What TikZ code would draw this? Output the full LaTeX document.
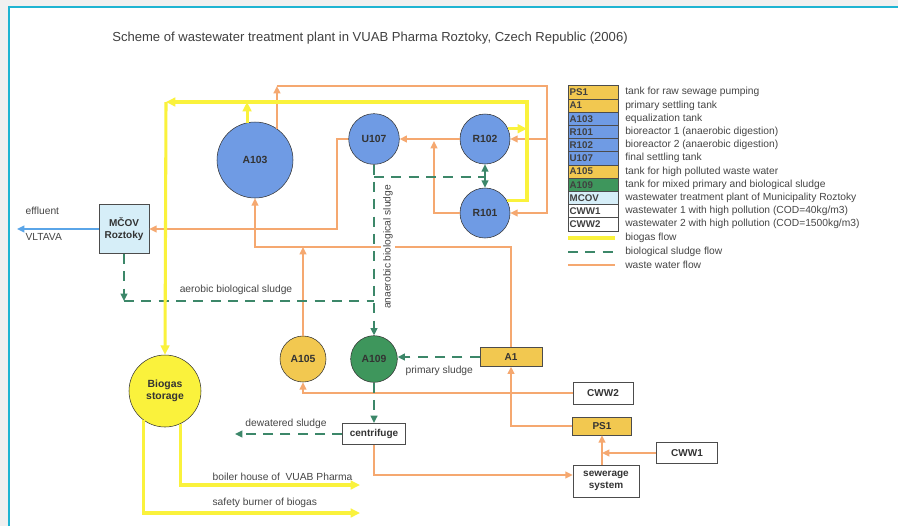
\documentclass[tikz,border=0pt]{standalone}
\usepackage{fontspec}
\setmainfont{Liberation Sans}
\usepackage{xcolor}
\usetikzlibrary{arrows.meta}

\definecolor{tankblue}{RGB}{111,155,228}
\definecolor{sludgegreen}{RGB}{62,150,92}
\definecolor{tankgold}{RGB}{242,200,80}
\definecolor{gasyellow}{RGB}{250,242,60}
\definecolor{wwline}{RGB}{245,168,112}
\definecolor{slline}{RGB}{60,135,105}
\definecolor{mcovblue}{RGB}{214,238,248}
\definecolor{effblue}{RGB}{90,165,232}
\definecolor{framecyan}{RGB}{30,180,210}
\definecolor{pagegrey}{RGB}{240,240,240}
\definecolor{txtgrey}{RGB}{70,70,70}

\tikzset{
  tank/.style={circle, draw=black!80, thin, inner sep=0pt, text=black!80,
    font=\fontsize{7.8}{9}\selectfont\bfseries},
  unit/.style={rectangle, draw=black!70, thin, inner sep=0pt, text=black!80,
    align=center, font=\fontsize{7.5}{8.6}\selectfont\bfseries},
  keybox/.style={rectangle, draw=black!70, thin, text width=35pt, inner xsep=1.25pt,
    inner ysep=0pt, minimum height=9.9pt, align=left, text=black!75,
    font=\fontsize{7.3}{8}\selectfont\bfseries},
  keytext/.style={anchor=west, inner sep=0pt, text=txtgrey, font=\fontsize{7.7}{8.5}\selectfont},
  lbl/.style={inner sep=1pt, text=txtgrey, font=\fontsize{7.7}{8.5}\selectfont},
  ww/.style={draw=wwline, line width=1.6pt},
  sl/.style={draw=slline, line width=1.6pt, dash pattern=on 7.5pt off 5.5pt},
  gas/.style={draw=gasyellow, line width=2.3pt},
  ef/.style={draw=effblue, line width=2.2pt},
  flowtip/.style={-{Triangle[length=5.5pt,width=5pt]}},
  gastip/.style={-{Triangle[length=7pt,width=6.5pt]}},
}

\begin{document}
\begin{tikzpicture}[x=0.75pt,y=-0.75pt]
\useasboundingbox (0,0) rectangle (898,526);
% page and frame
\fill[pagegrey] (0,0) rectangle (898,526);
\fill[white] (9,7) rectangle (898,526);
\draw[framecyan, line width=1.5pt] (9,526) -- (9,7) -- (898,7);

\node[text=black!75, font=\fontsize{9.8}{11}\selectfont] (title) at (370,38)
  {Scheme of wastewater treatment plant in VUAB Pharma Roztoky, Czech Republic (2006)};

% tanks
\node[tank, fill=tankblue, minimum size=57pt] (a103) at (255,160) {A103};
\node[tank, fill=tankblue, minimum size=38pt] (u107) at (374,139) {U107};
\node[tank, fill=tankblue, minimum size=37.5pt] (r102) at (485,139) {R102};
\node[tank, fill=tankblue, minimum size=37.5pt] (r101) at (485,213) {R101};
\node[tank, fill=tankgold, minimum size=34.5pt] (a105) at (303,359) {A105};
\node[tank, fill=sludgegreen, minimum size=35pt] (a109) at (374,359) {A109};
\node[tank, fill=gasyellow, minimum size=54pt, align=center] (store) at (165,391) {Biogas\\storage};

% units
\node[unit, fill=mcovblue, minimum width=37.5pt, minimum height=37pt] (mcov) at (124,229) {MČOV\\Roztoky};
\node[unit, fill=tankgold, minimum width=46.5pt, minimum height=14pt] (a1) at (511,357) {A1};
\node[unit, fill=white, minimum width=45pt, minimum height=16.5pt] (cww2) at (603,393) {CWW2};
\node[unit, fill=tankgold, minimum width=44pt, minimum height=13.5pt] (ps1) at (602,426) {PS1};
\node[unit, fill=white, minimum width=46pt, minimum height=16pt] (cww1) at (687,453) {CWW1};
\node[unit, fill=white, minimum width=49.5pt, minimum height=24pt] (sewer) at (606,481) {sewerage\\system};
\node[unit, fill=white, minimum width=47pt, minimum height=16pt] (centr) at (374,434) {centrifuge};

% free ends
\coordinate (wwtop) at (547,86);
\coordinate (wwmid) at (0,247);
\coordinate (uturn) at (337,139);
\coordinate (rjoin) at (434,141);
\coordinate (gastop) at (527,102);
\coordinate (gasleft) at (166,102);
\coordinate (slmid) at (485,177);
\coordinate (aerob) at (0,301);
\coordinate (dewat) at (235,434);
\coordinate (boiler) at (360,485);
\coordinate (burner) at (360,513);
\coordinate (river) at (17,229);

% waste water
\draw[ww, flowtip] (a103.55) -- (a103.55 |- wwtop);
\draw[ww, flowtip] (a103.55 |- wwtop) -- (wwtop) |- (r101.east);
\draw[ww, flowtip] (wwtop |- r102.east) -- (r102.east);
\draw[ww, flowtip] (r102.west) -- (u107.east);
\draw[ww, flowtip] (r101.west) -| (rjoin);
\draw[ww, flowtip] (u107.west) -- (uturn) |- (mcov.east);
\draw[ww, flowtip] (a1.north) |- (wwmid -| a103.south) -- (a103.south);
\draw[ww, flowtip] (a105.north) -- (a105.north |- wwmid);
\draw[ww, flowtip] (cww2.west) -| (a105.south);
\draw[ww, flowtip] (ps1.west) -| (a1.south);
\draw[ww, flowtip] (cww1.west) -- (cww1.west -| ps1.south);
\draw[ww, flowtip] (sewer.north -| ps1.south) -- (ps1.south);
\draw[ww, flowtip] (centr.south) |- ([yshift=4.5pt]sewer.west);

% sludge
\draw[sl, flowtip] (u107.south) -- (a109.north);
\draw[sl] (u107.south |- slmid) -- (slmid);
\draw[draw=slline, line width=1.6pt, {Triangle[length=5.5pt,width=5pt]}-{Triangle[length=5.5pt,width=5pt]}] (r102.south) -- (r101.north);
\draw[sl, flowtip] (mcov.south) -- (mcov.south |- aerob);
\draw[sl] (mcov.south |- aerob) -- (u107.south |- aerob);
\draw[sl, flowtip] (a1.west) -- (a1.west -| a109.east);
\draw[sl, flowtip] (a109.south) -- (centr.north);
\draw[sl, flowtip] (centr.west) -- (dewat);

% biogas
\draw[gas, gastip] (r102.24) -- (r102.24 -| gastop);
\draw[gas, gastip] (r101.29) -| (gastop) -- (gasleft);
\draw[gas, gastip] (gasleft) -- (store.north);
\draw[gas, gastip] (a103.102) -- (a103.102 |- gasleft);
\draw[gas, gastip] (store.-64) |- (boiler);
\draw[gas, gastip] (store.-126) |- (burner);

% effluent
\draw[ef, flowtip] (mcov.west) -- (river);

% labels
\node[lbl, anchor=west] (effl) at (24,211) {effluent};
\node[lbl, anchor=west] (vltl) at (24,237) {VLTAVA};
\node[lbl] (aerl) at (236,290) {aerobic biological sludge};
\node[lbl, rotate=90, fill=white, inner sep=2pt] (anal) at (388,247) {anaerobic biological sludge};
\node[lbl, anchor=west] (priml) at (404,371) {primary sludge};
\node[lbl] (dewl) at (286,424) {dewatered sludge};
\node[lbl, anchor=west] (boill) at (211,477) {boiler house of\ \ VUAB Pharma};
\node[lbl, anchor=west] (burnl) at (211,503) {safety burner of biogas};

% legend
\node[keybox, fill=tankgold] (kps1) at (593,92.3) {PS1};
\node[keytext] (tps1) at (625,92.3) {tank for raw sewage pumping};
\node[keybox, fill=tankgold] (ka1) at (593,105.5) {A1};
\node[keytext] (ta1) at (625,105.5) {primary settling tank};
\node[keybox, fill=tankblue] (ka103) at (593,118.7) {A103};
\node[keytext] (ta103) at (625,118.7) {equalization tank};
\node[keybox, fill=tankblue] (kr101) at (593,131.9) {R101};
\node[keytext] (tr101) at (625,131.9) {bioreactor 1 (anaerobic digestion)};
\node[keybox, fill=tankblue] (kr102) at (593,145.1) {R102};
\node[keytext] (tr102) at (625,145.1) {bioreactor 2 (anaerobic digestion)};
\node[keybox, fill=tankblue] (ku107) at (593,158.3) {U107};
\node[keytext] (tu107) at (625,158.3) {final settling tank};
\node[keybox, fill=tankgold] (ka105) at (593,171.5) {A105};
\node[keytext] (ta105) at (625,171.5) {tank for high polluted waste water};
\node[keybox, fill=sludgegreen] (ka109) at (593,184.7) {A109};
\node[keytext] (ta109) at (625,184.7) {tank for mixed primary and biological sludge};
\node[keybox, fill=mcovblue] (kmcov) at (593,197.9) {MCOV};
\node[keytext] (tmcov) at (625,197.9) {wastewater treatment plant of Municipality Roztoky};
\node[keybox, fill=white] (kcww1) at (593,211.1) {CWW1};
\node[keytext] (tcww1) at (625,211.1) {wastewater 1 with high pollution (COD=40kg/m3)};
\node[keybox, fill=white] (kcww2) at (593,224.3) {CWW2};
\node[keytext] (tcww2) at (625,224.3) {wastewater 2 with high pollution (COD=1500kg/m3)};
\draw[gas] (568,238) -- (615,238);
\node[keytext] (tgas) at (625,238) {biogas flow};
\draw[sl] (568,252) -- (615,252);
\node[keytext] (tsl) at (625,252) {biological sludge flow};
\draw[ww] (568,265) -- (615,265);
\node[keytext] (tww) at (625,265) {waste water flow};
\end{tikzpicture}
\end{document}
